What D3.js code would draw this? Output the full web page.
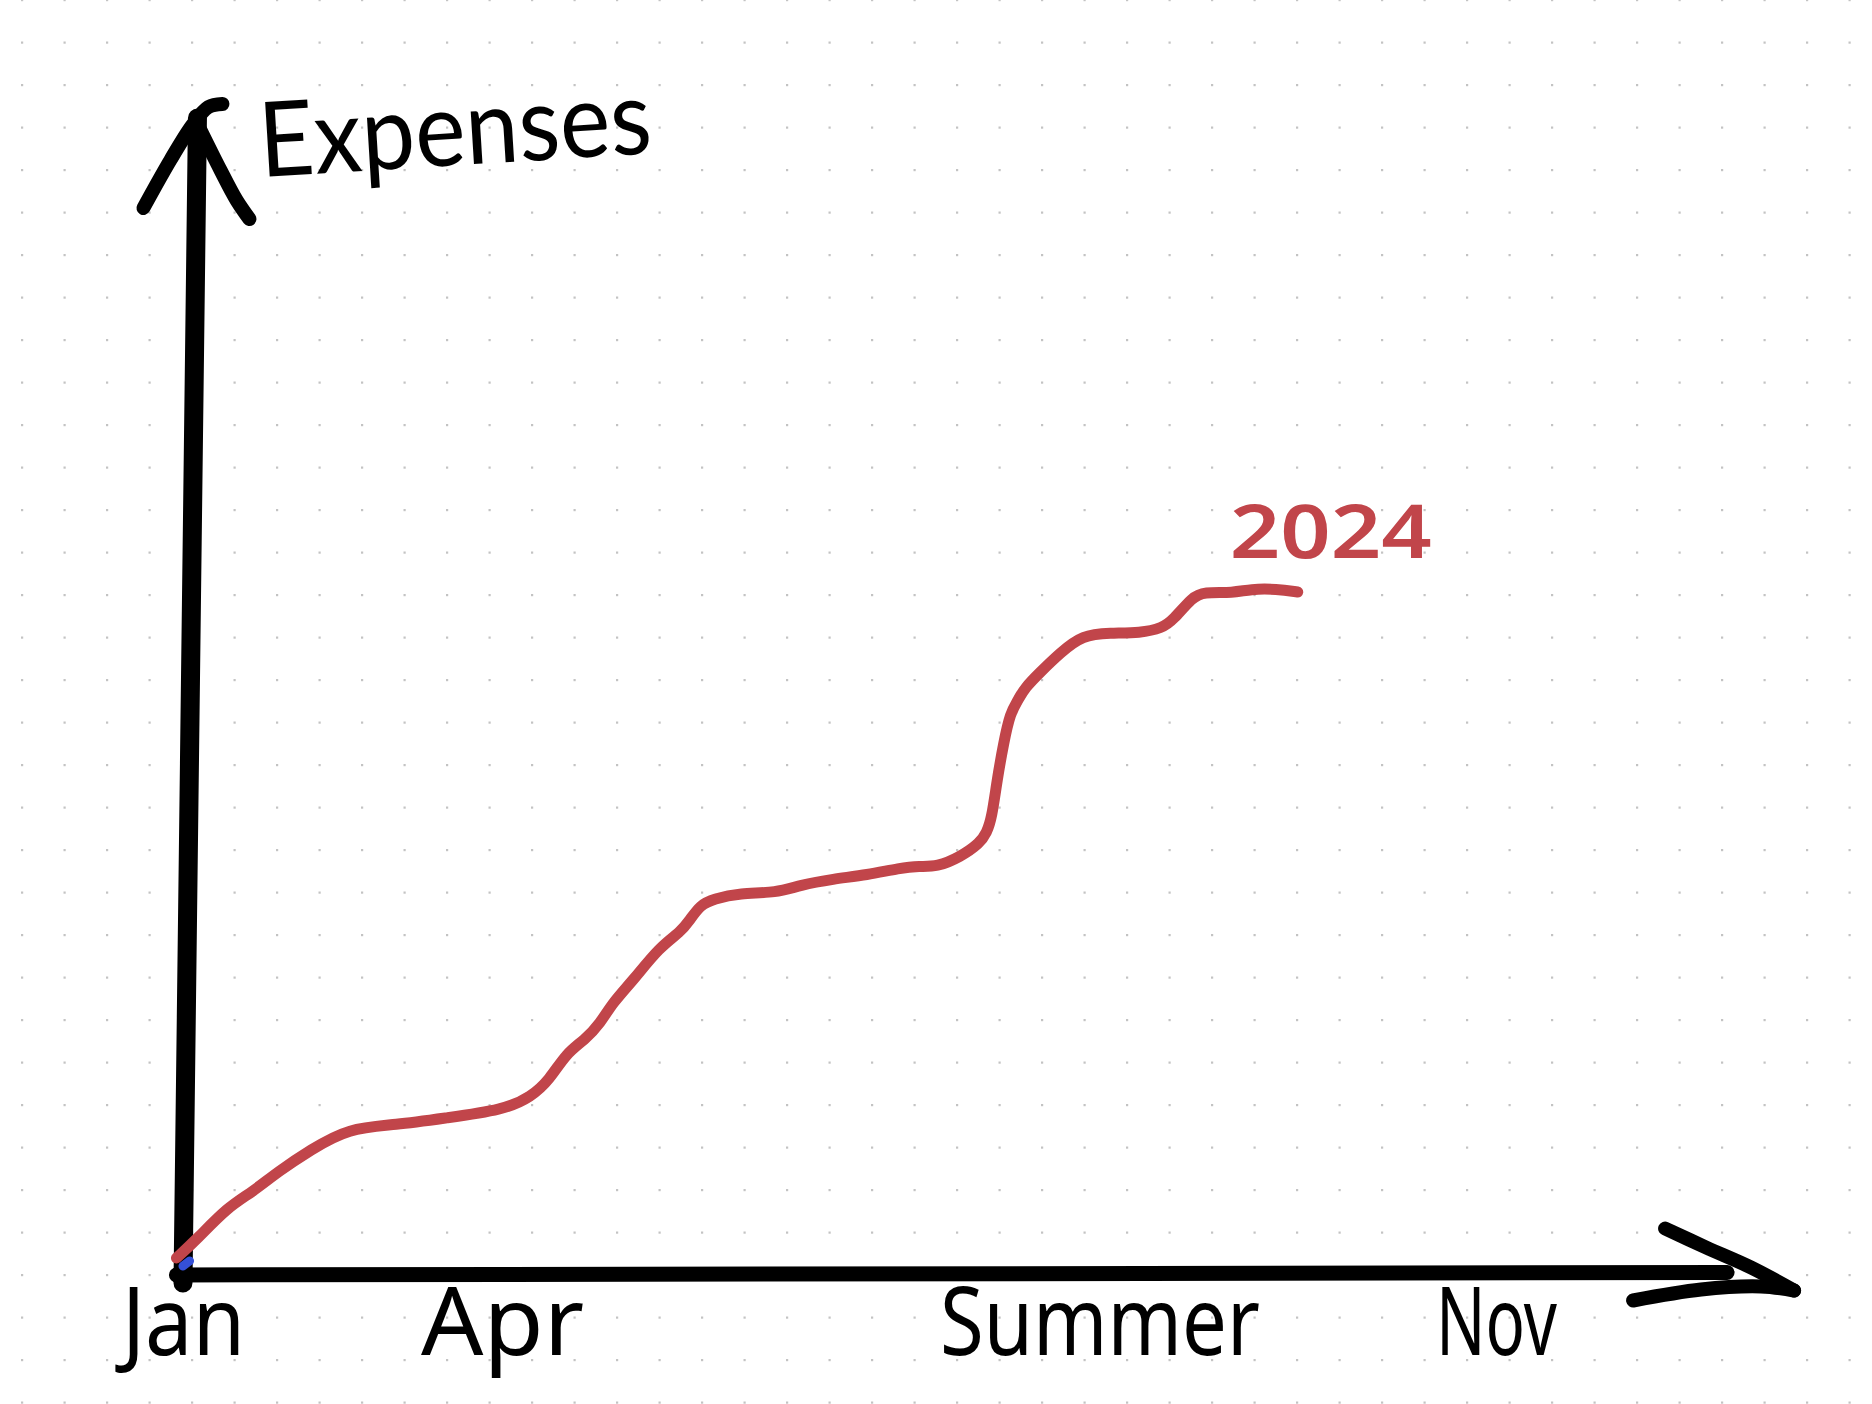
<!DOCTYPE html>
<html>
<head>
<meta charset="utf-8">
<script src="https://cdn.jsdelivr.net/npm/d3@7"></script>
<style>
  html, body { margin: 0; padding: 0; background: #ffffff; }
  svg { display: block; }
</style>
</head>
<body>
<script>
// ---------------- data ----------------
const months = [-0.05, 0.10, 0.34, 0.53, 0.72, 0.97, 1.26, 1.62, 2.00, 2.44,
                2.65, 2.79, 2.92, 3.06, 3.18, 3.27, 3.43, 3.63, 3.79, 3.86,
                3.94, 4.04, 4.24, 4.52, 4.70, 4.95, 5.21, 5.46, 5.61, 5.74,
                5.92, 6.07, 6.12, 6.16, 6.20, 6.25, 6.30, 6.36, 6.41, 6.53,
                6.68, 6.85, 7.06, 7.29, 7.46, 7.54, 7.69, 7.77, 8.00, 8.13,
                8.33, 8.49];
const expenses = [1.5, 3.3, 6.6, 8.1, 10.1, 12.3, 14.5, 14.8, 15.5, 16.3,
                  17.6, 19.3, 22.0, 23.3, 25.0, 27.0, 29.3, 32.6, 34.1, 35.3,
                  36.8, 37.4, 38.0, 38.0, 38.8, 39.4, 39.8, 40.5, 40.7, 40.6,
                  41.6, 43.0, 44.0, 45.5, 49.3, 53.0, 56.0, 57.3, 58.5, 60.1,
                  62.0, 63.8, 64.0, 64.0, 64.5, 65.3, 67.6, 68.1, 68.0, 68.4,
                  68.4, 68.1];
const seriesName = "2024";
const xTickValues = [0, 2.43, 6.98, 10];
const xTickLabels = ["Jan", "Apr", "Summer", "Nov"];
const yTitle = "Expenses";
const originMarkMonths = [0.0, 0.05];
const originMarkExpenses = [0.7, 1.2];

// ---------------- setup ----------------
const W = 1872, H = 1404;
const svg = d3.select("body").append("svg").attr("width", W).attr("height", H);
svg.append("rect").attr("width", W).attr("height", H).attr("fill", "#ffffff");

// dotted paper background
const dots = svg.append("g").attr("fill", "#c3c3c3");
const gx = d3.range(22, W, 42.5), gy = d3.range(0, H + 1, 42.5);
gy.forEach(yy => gx.forEach(xx => {
  dots.append("rect").attr("x", xx - 1).attr("y", yy - 1).attr("width", 2.2).attr("height", 2.2);
}));

const x = d3.scaleLinear().domain([0, 12]).range([183, 183 + 12 * 131.3]);
const y = d3.scaleLinear().domain([0, 100]).range([1273, 273]);

const ink = "#000000", red = "#c1454a", blue = "#3550d8";

// ---------------- axes ----------------
const axes = svg.append("g").attr("fill", "none").attr("stroke", ink)
  .attr("stroke-linecap", "round").attr("stroke-linejoin", "round");

// vertical axis (slightly slanted, hand drawn)
const vBottom = [x(0), y(-1)], vTop = [x(0.11), y(115.5)];
axes.append("path").attr("stroke-width", 19)
  .attr("d", d3.line()([vBottom, vTop]));
// vertical arrow head
const yArrowL = [[-54, 90], [-27, 42], [-5, 7], [11, -11], [25, -14]];
const yArrowR = [[3, 12], [23, 52], [39, 82], [52, 101]];
const rel = (p0, pts) => pts.map(d => [p0[0] + d[0], p0[1] + d[1]]);
axes.append("path").attr("stroke-width", 14)
  .attr("d", d3.line().curve(d3.curveCatmullRom)(rel(vTop, yArrowL)));
axes.append("path").attr("stroke-width", 14)
  .attr("d", d3.line().curve(d3.curveCatmullRom)(rel(vTop, yArrowR)));

// horizontal axis
const hLeft = [x(-0.05), y(-0.2)], hRight = [x(11.76), y(0.05)];
axes.append("path").attr("stroke-width", 15)
  .attr("d", d3.line()([hLeft, hRight]));
const xArrowU = [[-62, -44], [-21, -25], [24, -5], [67, 18]];
const xArrowD = [[-94, 28], [-26, 17], [34, 14], [67, 18]];
axes.append("path").attr("stroke-width", 14)
  .attr("d", d3.line().curve(d3.curveCatmullRom)(rel(hRight, xArrowU)));
axes.append("path").attr("stroke-width", 14)
  .attr("d", d3.line().curve(d3.curveCatmullRom)(rel(hRight, xArrowD)));

// x tick labels via d3 axis
const labelWidths = { "Jan": 123, "Apr": 163, "Summer": 320, "Nov": 121 };
const xAxis = d3.axisBottom(x).tickValues(xTickValues).tickSize(0)
  .tickFormat((d, i) => xTickLabels[i]);
const gxAxis = svg.append("g").attr("transform", `translate(0,${y(0)})`).call(xAxis);
gxAxis.select(".domain").remove();
gxAxis.selectAll("text")
  .attr("y", 82).attr("dy", 0)
  .attr("fill", ink)
  .style("font-family", "'Noto Sans', 'DejaVu Sans', sans-serif")
  .style("font-size", "95px")
  .style("font-weight", 400)
  .attr("textLength", d => labelWidths[xTickLabels[xTickValues.indexOf(d)]])
  .attr("lengthAdjust", "spacingAndGlyphs");

// y title
svg.append("text")
  .attr("transform", `translate(${x(0) + 78},${y(-1) - 1106}) rotate(-3.5)`)
  .attr("fill", ink)
  .style("font-family", "Lato, 'Open Sans', sans-serif")
  .style("font-weight", 400)
  .style("font-size", "104px")
  .attr("textLength", 393)
  .attr("lengthAdjust", "spacingAndGlyphs")
  .text(yTitle);

// ---------------- series ----------------
const pts = months.map((m, i) => [x(m), y(expenses[i])]);
svg.append("path")
  .attr("d", d3.line().curve(d3.curveBasis)(pts))
  .attr("fill", "none").attr("stroke", red).attr("stroke-width", 11)
  .attr("stroke-linecap", "round").attr("stroke-linejoin", "round");

// small blue mark at the origin
svg.append("path")
  .attr("d", d3.line()(originMarkMonths.map((m, i) => [x(m), y(originMarkExpenses[i])])))
  .attr("fill", "none").attr("stroke", blue).attr("stroke-width", 9)
  .attr("stroke-linecap", "round");

// series label
const last = pts[pts.length - 1];
svg.append("text")
  .attr("x", last[0] - 68).attr("y", last[1] - 34)
  .attr("fill", red)
  .style("font-family", "'Noto Sans', 'DejaVu Sans', sans-serif")
  .style("font-weight", 600)
  .style("font-size", "74px")
  .attr("textLength", 202)
  .attr("lengthAdjust", "spacingAndGlyphs")
  .text(seriesName);
</script>
</body>
</html>
